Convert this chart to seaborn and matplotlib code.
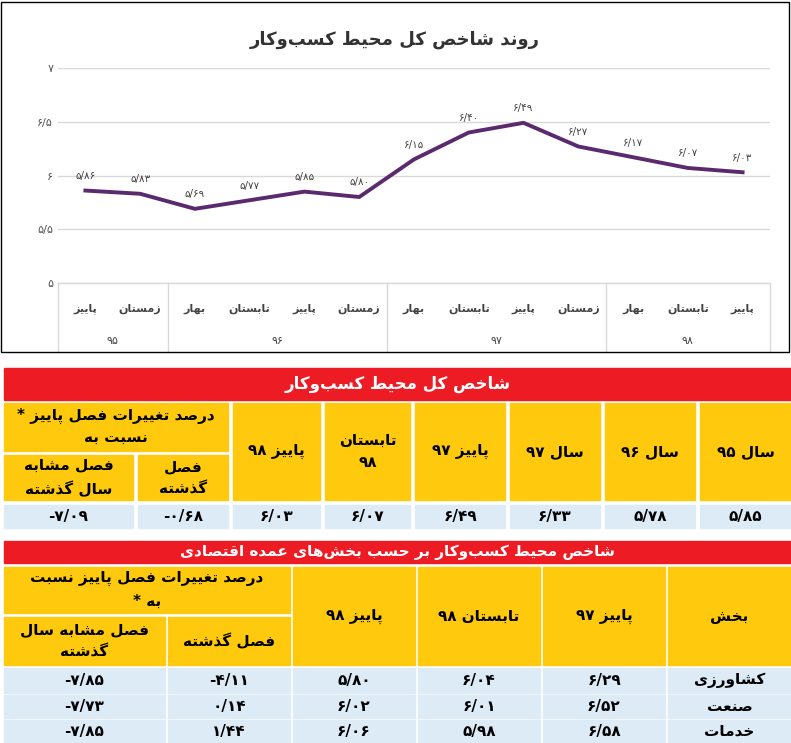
import re
import matplotlib
matplotlib.use("Agg")
import matplotlib.pyplot as plt
from matplotlib.patches import Rectangle
import seaborn as sns
import pandas as pd

# ---------------- data ----------------
seasons = ["پاییز", "زمستان", "بهار", "تابستان", "پاییز", "زمستان", "بهار", "تابستان", "پاییز", "زمستان", "بهار", "تابستان", "پاییز"]
years = ["۹۵", "۹۶", "۹۷", "۹۸"]
year_counts = [2, 4, 4, 3]
index_values = [5.86, 5.83, 5.69, 5.77, 5.85, 5.80, 6.15, 6.40, 6.49, 6.27, 6.17, 6.07, 6.03]
y_ticks = [5, 5.5, 6, 6.5, 7]

t1_headers = ["سال ۹۵", "سال ۹۶", "سال ۹۷", "پاییز ۹۷", "تابستان ۹۸", "پاییز ۹۸"]
t1_values = [5.85, 5.78, 6.33, 6.49, 6.07, 6.03]
t1_changes = [-0.68, -7.09]

t2_sectors = ["کشاورزی", "صنعت", "خدمات"]
t2_cols = ["پاییز ۹۷", "تابستان ۹۸", "پاییز ۹۸"]
t2_values = [[6.29, 6.04, 5.80], [6.52, 6.01, 6.02], [6.58, 5.98, 6.06]]
t2_changes = [[-4.11, -7.85], [0.14, -7.73], [1.44, -7.85]]

# ---------------- Persian shaping ----------------
F = {
 'ا': (0xFE8D, 0xFE8E, None, None), 'ب': (0xFE8F, 0xFE90, 0xFE91, 0xFE92),
 'ت': (0xFE95, 0xFE96, 0xFE97, 0xFE98), 'ج': (0xFE9D, 0xFE9E, 0xFE9F, 0xFEA0),
 'ح': (0xFEA1, 0xFEA2, 0xFEA3, 0xFEA4), 'خ': (0xFEA5, 0xFEA6, 0xFEA7, 0xFEA8),
 'د': (0xFEA9, 0xFEAA, None, None), 'ذ': (0xFEAB, 0xFEAC, None, None),
 'ر': (0xFEAD, 0xFEAE, None, None), 'ز': (0xFEAF, 0xFEB0, None, None),
 'س': (0xFEB1, 0xFEB2, 0xFEB3, 0xFEB4), 'ش': (0xFEB5, 0xFEB6, 0xFEB7, 0xFEB8),
 'ص': (0xFEB9, 0xFEBA, 0xFEBB, 0xFEBC), 'ط': (0xFEC1, 0xFEC2, 0xFEC3, 0xFEC4),
 'ع': (0xFEC9, 0xFECA, 0xFECB, 0xFECC), 'غ': (0xFECD, 0xFECE, 0xFECF, 0xFED0),
 'ف': (0xFED1, 0xFED2, 0xFED3, 0xFED4), 'ق': (0xFED5, 0xFED6, 0xFED7, 0xFED8),
 'ل': (0xFEDD, 0xFEDE, 0xFEDF, 0xFEE0), 'م': (0xFEE1, 0xFEE2, 0xFEE3, 0xFEE4),
 'ن': (0xFEE5, 0xFEE6, 0xFEE7, 0xFEE8), 'ه': (0xFEE9, 0xFEEA, 0xFEEB, 0xFEEC),
 'و': (0xFEED, 0xFEEE, None, None), 'ی': (0xFBFC, 0xFBFD, 0xFBFE, 0xFBFF),
 'پ': (0xFB56, 0xFB57, 0xFB58, 0xFB59), 'ک': (0xFB8E, 0xFB8F, 0xFB90, 0xFB91),
 'گ': (0xFB92, 0xFB93, 0xFB94, 0xFB95), 'ژ': (0xFB8A, 0xFB8B, None, None),
}

def fa(s):
    out = []
    for i, c in enumerate(s):
        if c not in F:
            out.append(c); continue
        p = s[i-1] if i > 0 else ''
        n = s[i+1] if i+1 < len(s) else ''
        pj = p in F and F[p][2] is not None
        nj = n in F and F[c][2] is not None
        iso, fin, ini, med = F[c]
        if pj and nj: ch = med
        elif pj: ch = fin
        elif nj: ch = ini
        else: ch = iso
        out.append(chr(ch))
    v = ''.join(ch for ch in out if ch != '\u200c')[::-1]
    v = re.sub(r'[0-9۰-۹/\.]+', lambda m: m.group(0)[::-1], v)
    return v

def pnum(x, signed=False):
    s = f"{abs(x):.2f}".replace('.', '/')
    s = s.translate(str.maketrans('0123456789', '۰۱۲۳۴۵۶۷۸۹'))
    if x < 0:
        s = '-' + s
    return s

plt.rcParams['font.family'] = 'DejaVu Sans'
W, H = 791, 743
fig = plt.figure(figsize=(W/100, H/100), dpi=100)

def fx(x): return x / W
def fy(y): return 1 - y / H

def box(x0, y0, x1, y1, color, text=None, size=11, tcolor='black', weight='bold'):
    fig.patches.append(Rectangle((fx(x0), fy(y1)), fx(x1 - x0), (y1 - y0) / H,
                                 transform=fig.transFigure, color=color, zorder=1))
    if text is not None:
        fig.text(fx((x0 + x1) / 2), fy((y0 + y1) / 2), text, ha='center', va='center',
                 fontsize=size, color=tcolor, weight=weight, linespacing=1.6)

# ---------------- chart ----------------
fig.patches.append(Rectangle((fx(1), fy(352)), fx(788), 350 / H, transform=fig.transFigure,
                             fill=False, edgecolor='black', lw=1))
fig.text(fx(395), fy(40), fa("روند شاخص کل محیط کسب‌وکار"), ha='center', va='center',
         fontsize=13, weight='bold', color='#333333')

ax = fig.add_axes([fx(58), fy(283), fx(712), 215 / H])
df = pd.DataFrame({"x": range(len(index_values)), "v": index_values})
sns.lineplot(data=df, x="x", y="v", ax=ax, color='#5B2A6E', lw=2.8)
ax.set_ylim(5, 7)
ax.set_xlim(-0.5, len(index_values) - 0.5)
ax.set_yticks(y_ticks)
ax.set_yticklabels([pnum(t).rstrip('۰').rstrip('/') for t in y_ticks], fontsize=8, color='#555555')
ax.grid(axis='y', color='#d9d9d9', lw=1)
ax.set_axisbelow(True)
for s in ax.spines.values():
    s.set_visible(False)
ax.tick_params(length=0)
ax.set_xticks([])
ax.set_xlabel(''); ax.set_ylabel('')
for i, v in enumerate(index_values):
    ax.text(i, v + 0.09, pnum(v), ha='center', va='bottom', fontsize=7.5, color='#444444')

# two-level category axis
trans = ax.get_xaxis_transform()
ax.plot([-0.5, len(index_values) - 0.5], [0, 0], transform=trans, color='#d9d9d9', lw=1, clip_on=False)
for i, s in enumerate(seasons):
    ax.text(i, -0.12, fa(s), transform=trans, ha='center', va='center', fontsize=8,
            color='#444444', weight='bold')
start = 0
bounds = [-0.5]
for y, c in zip(years, year_counts):
    mid = start + (c - 1) / 2
    ax.text(mid, -0.27, y, transform=trans, ha='center', va='center', fontsize=8, color='#444444')
    start += c
    bounds.append(start - 0.5)
for b in bounds:
    ax.plot([b, b], [0, -0.32], transform=trans, color='#d9d9d9', lw=1, clip_on=False)

# ---------------- table 1 ----------------
YEL = '#FFC90E'; BLU = '#DDEBF7'; RED = '#ED1C24'
box(4, 368, 791, 400, RED, fa("شاخص کل محیط کسب‌وکار"), size=12, tcolor='white')
cols1 = [(700, 791), (605, 695), (510, 600), (415, 505), (325, 410), (233, 320)]
for (a, b), h, v in zip(cols1, t1_headers, t1_values):
    label = fa(h) if h != "تابستان ۹۸" else fa("تابستان") + "\n۹۸"
    box(a, 403, b, 500, YEL, label, size=11)
    box(a, 505, b, 528, BLU, pnum(v), size=11)
box(4, 403, 228, 451, YEL, "* " + fa("درصد تغییرات فصل پاییز") + "\n" + fa("نسبت به"), size=11)
box(138, 455, 228, 500, YEL, fa("فصل") + "\n" + fa("گذشته"), size=11)
box(4, 455, 133, 500, YEL, fa("فصل مشابه") + "\n" + fa("سال گذشته"), size=11)
box(138, 505, 228, 528, BLU, pnum(t1_changes[0]), size=11)
box(4, 505, 133, 528, BLU, pnum(t1_changes[1]), size=11)

# ---------------- table 2 ----------------
box(4, 541, 791, 563, RED, fa("شاخص محیط کسب‌وکار بر حسب بخش‌های عمده اقتصادی"), size=11, tcolor='white')
cols2 = [(668, 791), (543, 665), (418, 540), (293, 415), (168, 290), (4, 165)]
box(668, 567, 791, 665, YEL, fa("بخش"), size=11)
for (a, b), h in zip(cols2[1:4], t2_cols):
    box(a, 567, b, 665, YEL, fa(h), size=11)
box(4, 567, 290, 613, YEL, fa("درصد تغییرات فصل پاییز نسبت") + "\n* " + fa("به"), size=11)
box(168, 617, 290, 665, YEL, fa("فصل گذشته"), size=11)
box(4, 617, 165, 665, YEL, fa("فصل مشابه سال") + "\n" + fa("گذشته"), size=11)
rows_y = [(668, 693), (695, 718), (720, 743)]
for (y0, y1), sec, vals, ch in zip(rows_y, t2_sectors, t2_values, t2_changes):
    box(668, y0, 791, y1, BLU, fa(sec), size=11)
    for (a, b), v in zip(cols2[1:4], vals):
        box(a, y0, b, y1, BLU, pnum(v), size=11)
    for (a, b), v in zip(cols2[4:], ch):
        box(a, y0, b, y1, BLU, pnum(v), size=11)

fig.savefig("out.png", dpi=100)
